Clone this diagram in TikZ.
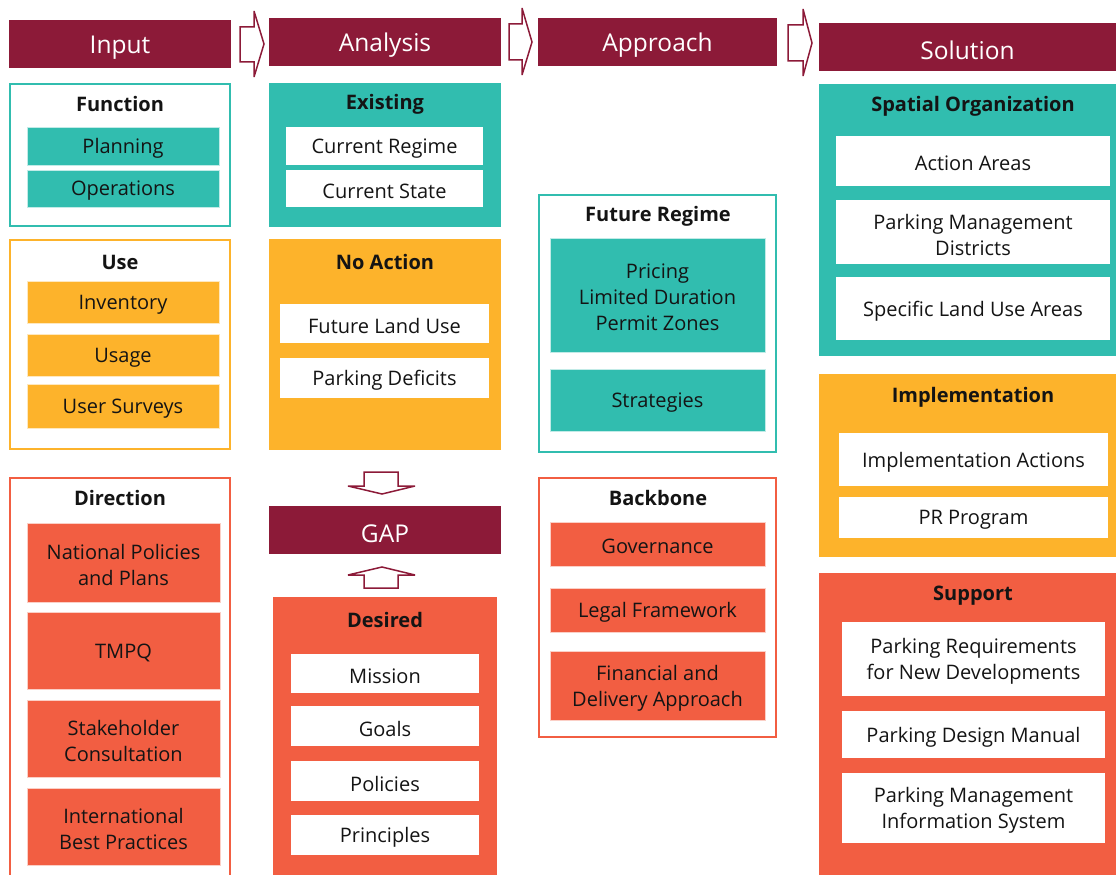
\documentclass[tikz,border=0pt]{standalone}
\usepackage{fontspec}
\setmainfont{Open Sans}
\definecolor{crim}{HTML}{8C1A38}
\definecolor{tealc}{HTML}{31BDAF}
\definecolor{amberc}{HTML}{FDB32B}
\definecolor{redc}{HTML}{F25E42}
\definecolor{inkc}{HTML}{141414}

\tikzset{
  every node/.style={inner sep=0pt, outer sep=0pt},
  hdr/.style={fill=crim},
  hdrtext/.style={text=white, font=\fontsize{24.5}{28}\selectfont, yshift=-3.5pt},
  ttl/.style={font=\fontsize{20}{24}\selectfont\bfseries, text=inkc},
  itm/.style={font=\fontsize{20}{26}\selectfont, align=center, text=inkc, yshift=-2.5pt},
  tealitem/.style={fill=tealc, draw=white!70!tealc, line width=0.6pt},
  amberitem/.style={fill=amberc, draw=white!70!amberc, line width=0.6pt},
  reditem/.style={fill=redc, draw=white!70!redc, line width=0.6pt},
  whiteitem/.style={fill=white},
  tealframe/.style={draw=tealc, line width=2pt, fill=white},
  amberframe/.style={draw=amberc, line width=2pt, fill=white},
  redframe/.style={draw=redc, line width=2pt, fill=white},
  tealpanel/.style={fill=tealc},
  amberpanel/.style={fill=amberc},
  redpanel/.style={fill=redc},
  blockarrow/.style={draw=crim, line width=1.5pt, fill=white, line join=miter, miter limit=1.5},
}

% \boxnode{name}{x1}{y1}{x2}{y2}{box style}{text}: the box, then its text as node name-t
\newcommand\boxnode[7]{%
  \node[#6, minimum width={#4-#2}, minimum height={#5-#3}]
    (#1) at ({(#2+#4)/2},{(#3+#5)/2}) {};
  \node[itm] (#1-t) at (#1.center) {#7};}
\newcommand\hdrnode[6]{%
  \node[hdr, minimum width={#4-#2}, minimum height={#5-#3}]
    (#1) at ({(#2+#4)/2},{(#3+#5)/2}) {};
  \node[hdrtext] (#1-t) at (#1.center) {#6};}
\newcommand\panel[6]{%
  \node[#6, minimum width={#4-#2}, minimum height={#5-#3}]
    (#1) at ({(#2+#4)/2},{(#3+#5)/2}) {};}

\begin{document}
\begin{tikzpicture}[x=1pt, y=-1pt]
\useasboundingbox (0,0) rectangle (1116,875);

% ---- column headers ----
\hdrnode{hin}{9}{20}{231}{68}{Input}
\hdrnode{han}{269}{18}{501}{66}{Analysis}
\hdrnode{hap}{538}{18}{777}{66}{Approach}
\hdrnode{hso}{819}{23}{1116}{71}{Solution}

% ---- block arrows between headers ----
\draw[blockarrow] (240,27) -- (254,27) -- (254,11) -- (264,44) -- (254,77)
  -- (254,62) -- (240,62) -- cycle;
\draw[blockarrow] (509,24) -- (522,24) -- (522,8) -- (532,42) -- (522,75)
  -- (522,60) -- (509,60) -- cycle;
\draw[blockarrow] (788,25) -- (803,25) -- (803,9) -- (812,43) -- (803,76)
  -- (803,61) -- (788,61) -- cycle;

% ---- Input column ----
\panel{fnbox}{10}{84}{230}{226}{tealframe}
\node[ttl] (fnttl) at (120,104) {Function};
\boxnode{plan}{27}{127}{219}{165}{tealitem}{Planning}
\boxnode{oper}{27}{170}{219}{207}{tealitem}{Operations}

\panel{usebox}{10}{240}{230}{449}{amberframe}
\node[ttl] (usettl) at (120,262) {Use};
\boxnode{inv}{27}{281}{219}{323}{amberitem}{Inventory}
\boxnode{usg}{27}{334}{219}{376}{amberitem}{Usage}
\boxnode{surv}{27}{384}{219}{428}{amberitem}{User Surveys}

\panel{dirbox}{10}{478}{230}{890}{redframe}
\node[ttl] (dirttl) at (120,498) {Direction};
\boxnode{natp}{27}{523}{220}{602}{reditem}{National Policies\\and Plans}
\boxnode{tmpq}{27}{612}{220}{689}{reditem}{TMPQ}
\boxnode{stak}{27}{700}{220}{777}{reditem}{Stakeholder\\Consultation}
\boxnode{intl}{27}{788}{220}{865}{reditem}{International\\Best Practices}

% ---- Analysis column ----
\panel{exbox}{269}{83}{501}{227}{tealpanel}
\node[ttl] (exttl) at (385,104) {Existing};
\boxnode{creg}{286}{127}{483}{165}{whiteitem}{Current Regime}
\boxnode{cst}{286}{170}{483}{207}{whiteitem}{Current State}

\panel{nabox}{269}{239}{501}{450}{amberpanel}
\node[ttl] (nattl) at (385,262) {No Action};
\boxnode{flu}{280}{304}{489}{343}{whiteitem}{Future Land Use}
\boxnode{pdef}{280}{358}{489}{398}{whiteitem}{Parking Deficits}

\draw[blockarrow] (364,472) -- (398,472) -- (398,486) -- (415,486) -- (382,494)
  -- (348,486) -- (364,486) -- cycle;
\hdrnode{gap}{269}{506}{501}{554}{GAP}
\draw[blockarrow] (364,588) -- (398,588) -- (398,575) -- (415,575) -- (382,567)
  -- (348,575) -- (364,575) -- cycle;

\panel{desbox}{273}{597}{497}{890}{redpanel}
\node[ttl] (desttl) at (385,620) {Desired};
\boxnode{miss}{291}{654}{479}{693}{whiteitem}{Mission}
\boxnode{goal}{291}{706}{479}{746}{whiteitem}{Goals}
\boxnode{pol}{291}{761}{479}{801}{whiteitem}{Policies}
\boxnode{prin}{291}{815}{479}{855}{whiteitem}{Principles}

% ---- Approach column ----
\panel{frbox}{539}{195}{776}{452}{tealframe}
\node[ttl] (frttl) at (658,216) {Future Regime};
\boxnode{price}{550}{238}{765}{352}{tealitem}{Pricing\\Limited Duration\\Permit Zones}
\boxnode{strat}{550}{369}{765}{431}{tealitem}{Strategies}

\panel{bbbox}{539}{478}{776}{737}{redframe}
\node[ttl] (bbttl) at (658,498) {Backbone};
\boxnode{gov}{550}{522}{765}{566}{reditem}{Governance}
\boxnode{legal}{550}{588}{765}{632}{reditem}{Legal Framework}
\boxnode{fin}{550}{651}{765}{720}{reditem}{Financial and\\Delivery Approach}

% ---- Solution column ----
\panel{sobox}{819}{84}{1116}{356}{tealpanel}
\node[ttl] (sottl) at (973,106) {Spatial Organization};
\boxnode{aa}{836}{136}{1110}{186}{whiteitem}{Action Areas}
\boxnode{pmd}{836}{200}{1110}{264}{whiteitem}{Parking Management\\Districts}
\boxnode{slu}{836}{277}{1110}{340}{whiteitem}{Specific Land Use Areas}

\panel{imbox}{819}{374}{1116}{557}{amberpanel}
\node[ttl] (imttl) at (973,397) {Implementation};
\boxnode{ia}{839}{433}{1108}{486}{whiteitem}{Implementation Actions}
\boxnode{prp}{839}{497}{1108}{538}{whiteitem}{PR Program}

\panel{supbox}{819}{573}{1116}{890}{redpanel}
\node[ttl] (supttl) at (973,596) {Support};
\boxnode{preq}{842}{622}{1105}{696}{whiteitem}{Parking Requirements\\for New Developments}
\boxnode{pdm}{842}{711}{1105}{758}{whiteitem}{Parking Design Manual}
\boxnode{pmis}{842}{773}{1105}{843}{whiteitem}{Parking Management\\Information System}
\end{tikzpicture}
\end{document}
